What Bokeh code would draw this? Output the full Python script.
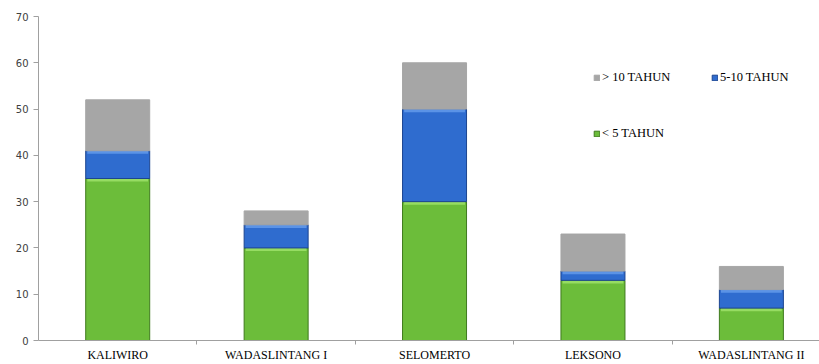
from bokeh.plotting import figure
from bokeh.models import FixedTicker, Range1d, Legend, LegendItem, ColumnDataSource
from bokeh.embed import file_html
from bokeh.resources import INLINE

categories = ["KALIWIRO", "WADASLINTANG I", "SELOMERTO", "LEKSONO", "WADASLINTANG II"]
lt5 = [35, 20, 30, 13, 7]
mid = [6, 5, 20, 2, 4]
gt10 = [11, 3, 10, 8, 5]
series_names = ["< 5 TAHUN", "5-10 TAHUN", "> 10 TAHUN"]
colors = ["#6cbd3a", "#2f6ccf", "#a6a6a6"]
edge_colors = ["#3f7a1e", "#1c4590", "#a6a6a6"]
highlight_colors = ["#96dc62", "#5b93e6", "#a6a6a6"]

xs = [i + 0.5 for i in range(len(categories))]
w = 0.404

p = figure(width=819, height=364, output_backend="svg", toolbar_location=None,
           x_range=Range1d(0, 4.93), y_range=Range1d(0, 70),
           min_border_left=38, min_border_right=0, min_border_top=16, min_border_bottom=23)
p.outline_line_color = None
p.xgrid.visible = False
p.ygrid.visible = False
p.background_fill_color = "white"
p.border_fill_color = "white"

renderers = []
bottom = [0] * len(categories)
for vals, col, ec, hc in zip([lt5, mid, gt10], colors, edge_colors, highlight_colors):
    top = [b + v for b, v in zip(bottom, vals)]
    src = ColumnDataSource(dict(left=[x - w / 2 for x in xs], right=[x + w / 2 for x in xs],
                                bottom=bottom, top=top))
    r = p.quad(left="left", right="right", bottom="bottom", top="top", source=src,
               fill_color=col, line_color=ec, line_width=1)
    renderers.append(r)
    if hc != col:
        # bevel highlight along the top edge of each segment
        hsrc = ColumnDataSource(dict(x0=[x - w / 2 + 0.01 for x in xs],
                                     x1=[x + w / 2 - 0.01 for x in xs],
                                     y=[t - 0.35 for t in top]))
        p.segment(x0="x0", x1="x1", y0="y", y1="y", source=hsrc,
                  line_color=hc, line_width=3)
    bottom = top

# axes
p.yaxis.ticker = FixedTicker(ticks=list(range(0, 71, 10)))
p.yaxis.axis_line_color = "#a0a0a0"
p.yaxis.major_tick_line_color = "#a0a0a0"
p.yaxis.major_tick_out = 5
p.yaxis.major_tick_in = 0
p.yaxis.minor_tick_line_color = None
p.yaxis.major_label_text_font = "DejaVu Sans"
p.yaxis.major_label_text_font_size = "10px"
p.yaxis.major_label_text_color = "#404040"
p.yaxis.major_label_standoff = 5

p.xaxis.ticker = FixedTicker(ticks=xs, minor_ticks=[1, 2, 3, 4])
p.xaxis.major_label_overrides = {x: c for x, c in zip(xs, categories)}
p.xaxis.axis_line_color = "#a0a0a0"
p.xaxis.major_tick_line_color = None
p.xaxis.major_tick_out = 0
p.xaxis.minor_tick_line_color = "#a0a0a0"
p.xaxis.minor_tick_out = 4
p.xaxis.minor_tick_in = 0
p.xaxis.major_label_text_font = "Liberation Serif"
p.xaxis.major_label_text_font_size = "12px"
p.xaxis.major_label_text_color = "#000000"
p.xaxis.major_label_standoff = 3

def make_legend(name, r, loc):
    lg = Legend(items=[LegendItem(label=name, renderers=[r])], location=loc,
                glyph_width=7, glyph_height=7, label_standoff=2, padding=0, margin=0,
                border_line_color=None, background_fill_alpha=0,
                label_text_font="Liberation Serif", label_text_font_size="12.5px",
                label_text_color="#000000", label_height=12)
    p.add_layout(lg, "center")

make_legend(series_names[2], renderers[2], (555, 255))
make_legend(series_names[1], renderers[1], (673, 255))
make_legend(series_names[0], renderers[0], (555, 199))

open("out.html", "w").write(file_html(p, INLINE))
